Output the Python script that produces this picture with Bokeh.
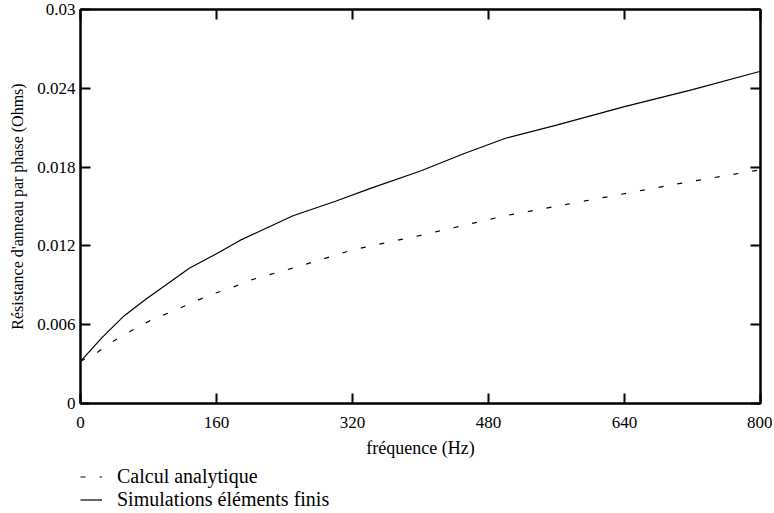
from bokeh.plotting import figure
from bokeh.layouts import column
from bokeh.models import LinearAxis, Legend, LegendItem, FixedTicker, Range1d
from bokeh.embed import file_html
from bokeh.resources import INLINE

# Data
freq_analytic = [0, 20, 40, 64, 86, 108, 132, 154, 177, 200, 260, 320, 400, 500, 600, 700, 800]
r_analytic = [0.0032, 0.0039, 0.0048, 0.0057, 0.00645, 0.0070, 0.0077, 0.0083, 0.0088,
              0.0094, 0.0105, 0.0117, 0.0128, 0.0143, 0.0155, 0.0167, 0.0178]
freq_sim = [0, 25, 50, 78, 100, 128, 160, 187, 250, 300, 342, 400, 450, 500, 560, 640, 720, 800]
r_sim = [0.0032, 0.0050, 0.0066, 0.0080, 0.0090, 0.0103, 0.0114, 0.0124, 0.0143, 0.0154,
         0.0164, 0.0177, 0.0190, 0.0202, 0.0212, 0.0226, 0.0239, 0.0253]

x_ticks = [0, 160, 320, 480, 640, 800]
x_tick_labels = ["0", "160", "320", "480", "640", "800"]
y_ticks = [0, 0.006, 0.012, 0.018, 0.024, 0.03]
y_tick_labels = ["0", "0.006", "0.012", "0.018", "0.024", "0.03"]

series_names = ["Calcul analytique", "Simulations éléments finis"]
x_title = "fréquence (Hz)"
y_title = "Résistance d'anneau par phase (Ohms)"

FONT = "Liberation Serif"
DASH = "5 14"

p = figure(output_backend="svg", toolbar_location=None,
           frame_width=680, frame_height=394,
           min_border_left=80, min_border_top=9, min_border_right=12, min_border_bottom=60,
           x_range=Range1d(0, 800), y_range=Range1d(0, 0.03),
           background_fill_color="white", border_fill_color="white")
p.xgrid.visible = False
p.ygrid.visible = False
p.outline_line_color = "black"
p.outline_line_width = 2

r1 = p.line(freq_analytic, r_analytic, line_color="black", line_width=1.2, line_dash=DASH)
r2 = p.line(freq_sim, r_sim, line_color="black", line_width=1.2)

def style_axis(ax, ticks, labels, show_labels):
    ax.ticker = FixedTicker(ticks=ticks)
    ax.major_label_overrides = {t: l for t, l in zip(ticks, labels)}
    ax.major_tick_in = 10
    ax.major_tick_out = 0
    ax.major_tick_line_width = 2
    ax.major_tick_line_color = "black"
    ax.minor_tick_line_color = None
    ax.axis_line_color = "black"
    ax.axis_line_width = 2
    ax.major_label_text_font = FONT
    ax.major_label_text_font_size = "17px"
    ax.major_label_text_color = "black"
    ax.axis_label_text_font = FONT
    ax.axis_label_text_font_style = "normal"
    ax.axis_label_text_color = "black"
    if not show_labels:
        ax.major_label_text_alpha = 0
        ax.major_label_text_font_size = "1px"
        ax.major_label_standoff = 0

xa = p.xaxis[0]
style_axis(xa, x_ticks, x_tick_labels, True)
xa.axis_label = x_title
xa.axis_label_text_font_size = "18px"
xa.major_label_standoff = 13
xa.axis_label_standoff = 7

ya = p.yaxis[0]
style_axis(ya, y_ticks, y_tick_labels, True)
ya.axis_label = y_title
ya.axis_label_text_font_size = "16px"
ya.major_label_standoff = 5
ya.axis_label_standoff = 8

top = LinearAxis()
style_axis(top, x_ticks, x_tick_labels, False)
p.add_layout(top, "above")
right = LinearAxis()
style_axis(right, y_ticks, y_tick_labels, False)
p.add_layout(right, "right")

# Legend panel below the chart (series redrawn out of view, used only as legend keys)
lg = figure(output_backend="svg", toolbar_location=None,
            width=772, height=48, min_border=0,
            x_axis_location=None, y_axis_location=None,
            x_range=Range1d(0, 800), y_range=Range1d(1, 2),
            background_fill_color="white", border_fill_color="white")
lg.grid.visible = False
lg.outline_line_color = None
k1 = lg.line(freq_analytic, r_analytic, line_color="black", line_width=1.2, line_dash=DASH)
k2 = lg.line(freq_sim, r_sim, line_color="black", line_width=1.2)

legend = Legend(items=[LegendItem(label=series_names[0], renderers=[k1]),
                       LegendItem(label=series_names[1], renderers=[k2])],
                location=(0, 0), orientation="vertical",
                border_line_color=None, background_fill_alpha=0,
                padding=0, margin=0, spacing=0,
                glyph_width=22, glyph_height=21, label_height=21, label_standoff=15,
                label_text_font=FONT, label_text_font_size="20px", label_text_color="black")
lg.add_layout(legend, "center")

layout = column(p, lg, spacing=0)

open("out.html", "w").write(file_html(layout, INLINE))
